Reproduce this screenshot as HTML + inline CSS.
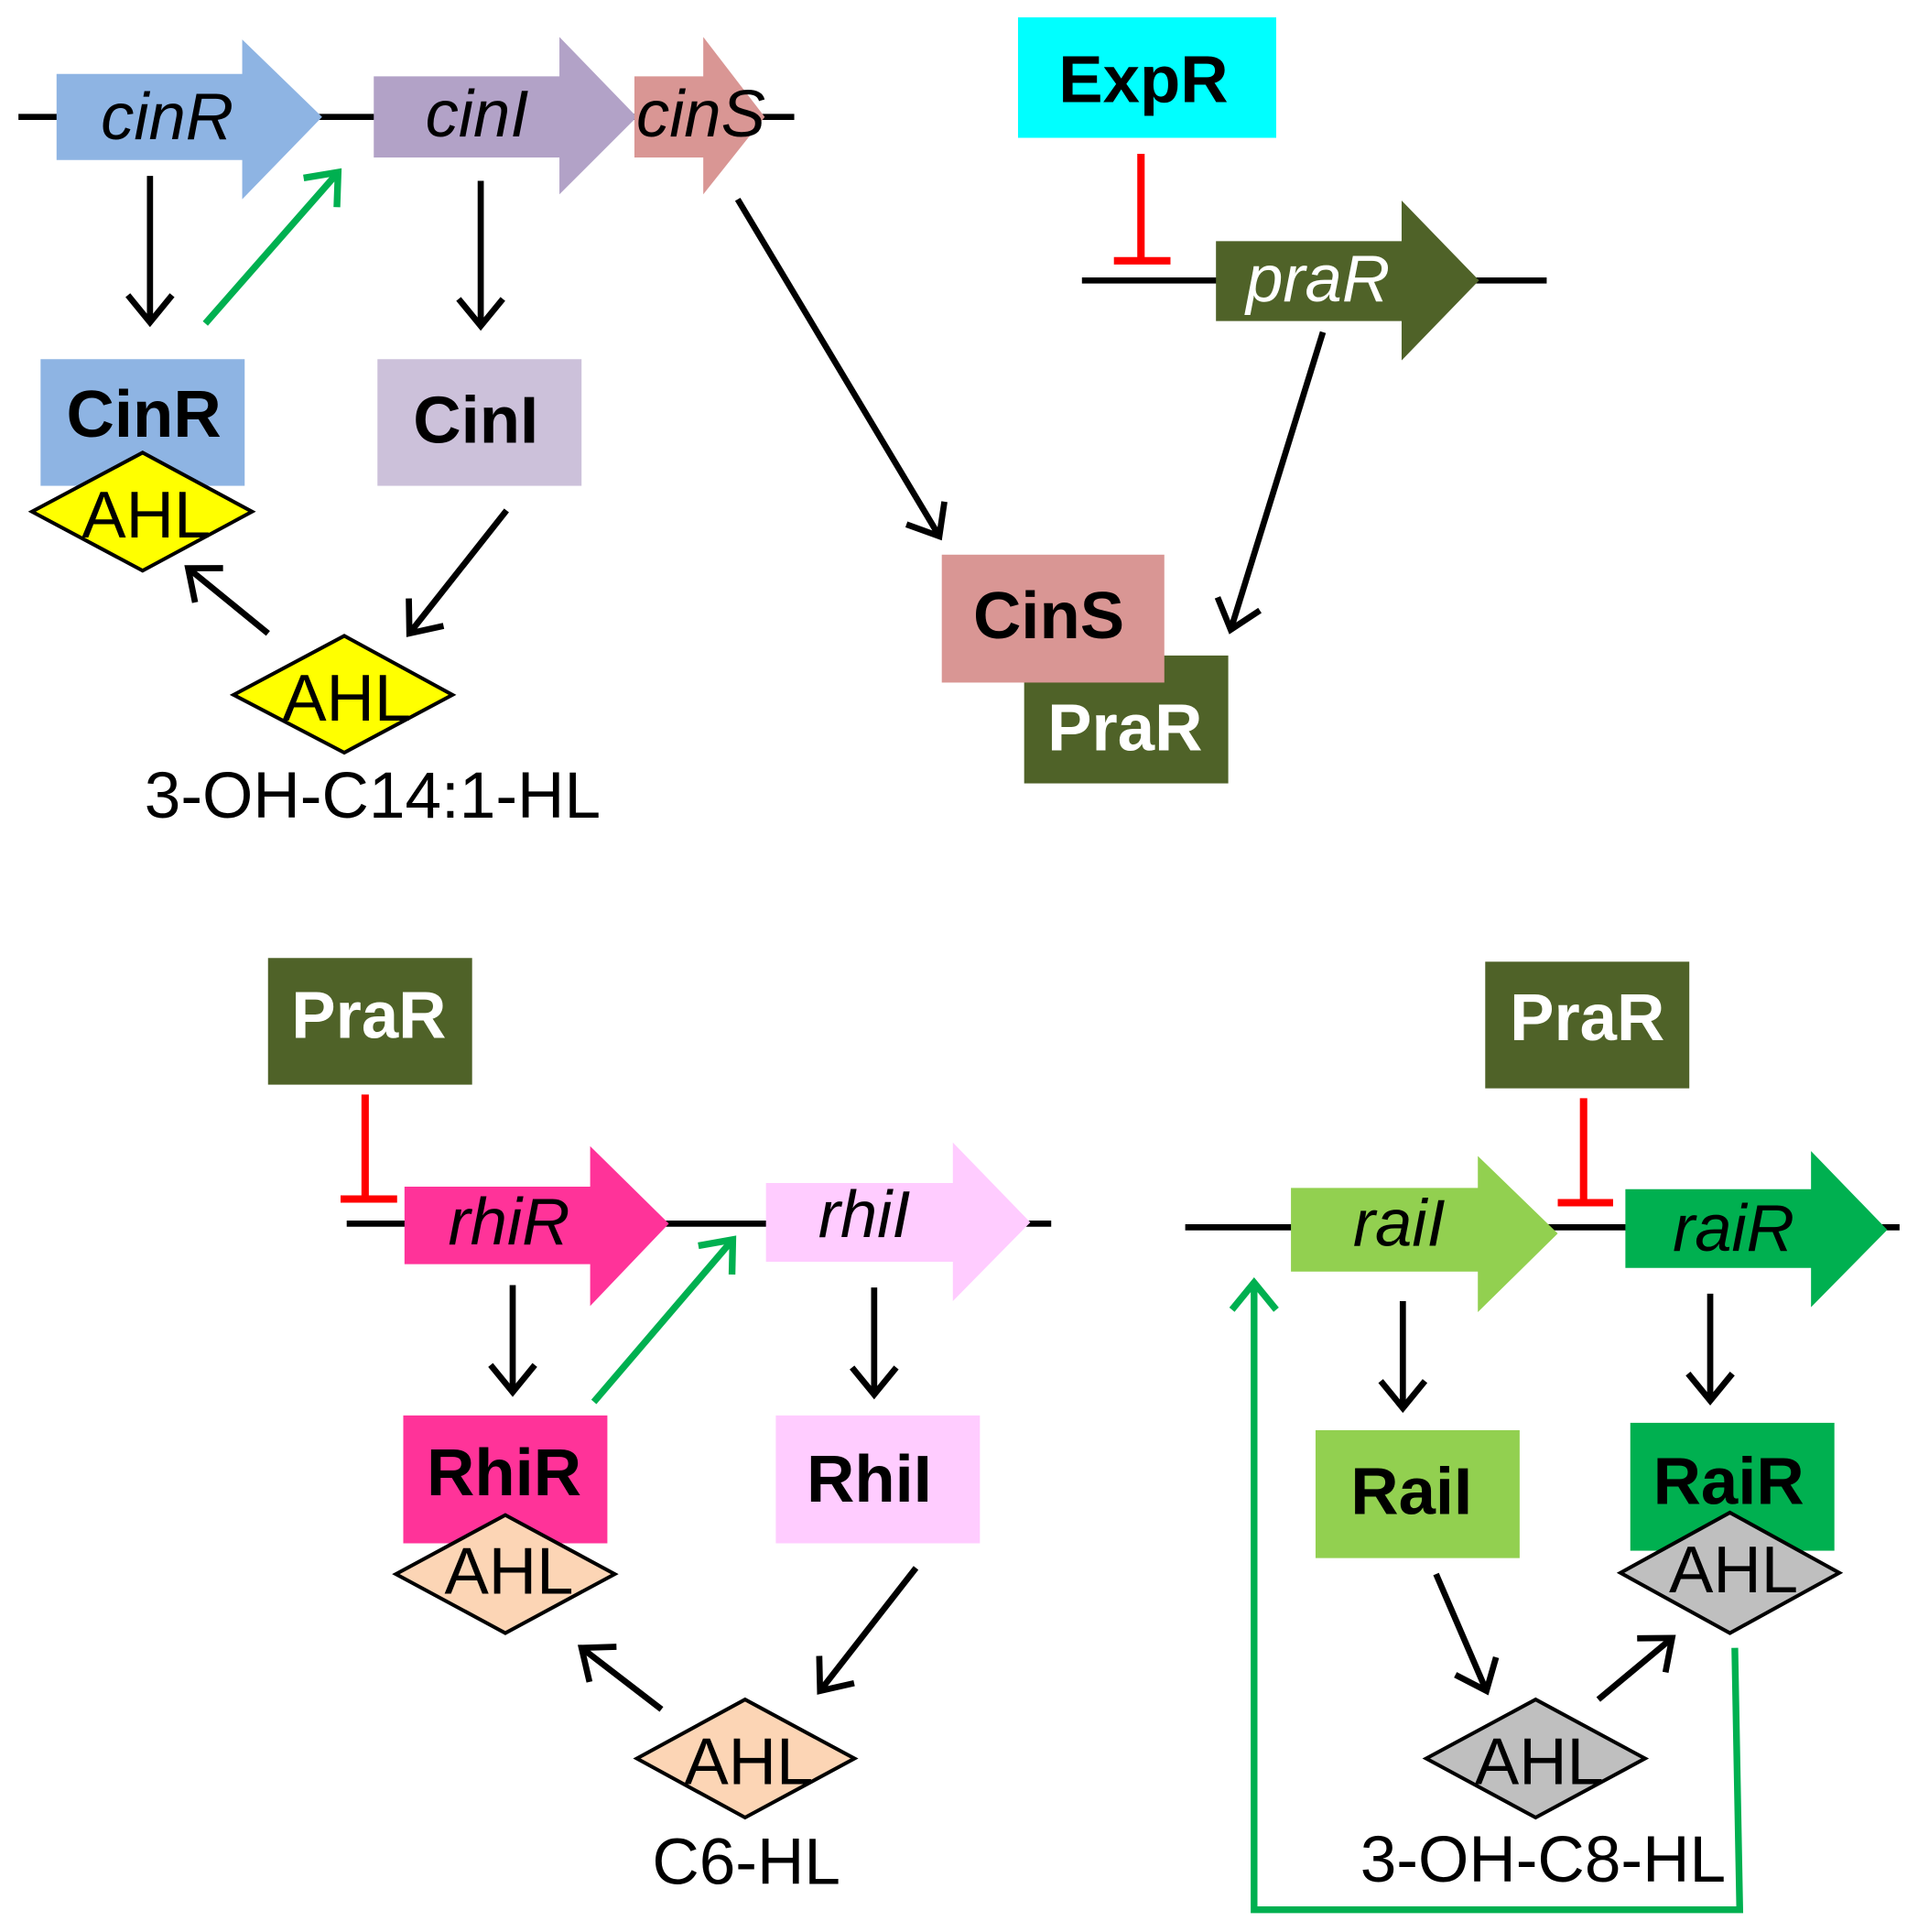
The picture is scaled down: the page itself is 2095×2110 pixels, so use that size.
<!DOCTYPE html>
<html><head><meta charset="utf-8"><style>
html,body{margin:0;padding:0;background:#fff}
svg{display:block}
text{font-family:"Liberation Sans",Arial,sans-serif}
.b{font-weight:bold;font-size:54px}
.i{font-style:italic;font-size:54px}
.a{font-size:54px}
.l{stroke:#000;stroke-width:5;fill:none}
.g{stroke:#00b050;stroke-width:5.5;fill:none}
.r{stroke:#ff0000;stroke-width:6;fill:none}
.d{stroke:#000;stroke-width:3}
</style></head><body>
<svg width="2095" height="2110" viewBox="0 0 1560 1571" xmlns="http://www.w3.org/2000/svg">
<defs>
<marker id="ak" markerWidth="12" markerHeight="12" refX="10" refY="6" orient="auto" markerUnits="userSpaceOnUse" viewBox="0 0 12 12" overflow="visible">
<path d="M-12,-12 L10,6 L-12,24" fill="none" stroke="#000" stroke-width="5"/>
</marker>
<marker id="ag" markerWidth="12" markerHeight="12" refX="10" refY="6" orient="auto" markerUnits="userSpaceOnUse" viewBox="0 0 12 12" overflow="visible">
<path d="M-12,-12 L10,6 L-12,24" fill="none" stroke="#00b050" stroke-width="5.5"/>
</marker>
</defs>
<line x1="15" y1="95" x2="646" y2="95" class="l"/>
<polygon points="46,60 197,60 197,32 262,95 197,162 197,130 46,130" fill="#8eb4e3"/>
<polygon points="304,62 455,62 455,30 518,95 455,158 455,128 304,128" fill="#b2a2c7"/>
<polygon points="516,62 572,62 572,30 622,95 572,158 572,128 516,128" fill="#d99694"/>
<text x="136" y="113" class="i" text-anchor="middle">cinR</text>
<text x="388" y="111" class="i" text-anchor="middle">cinI</text>
<text x="570" y="111" class="i" text-anchor="middle">cinS</text>
<line x1="122" y1="143" x2="122" y2="262" class="l" marker-end="url(#ak)"/>
<line x1="167" y1="263" x2="275" y2="140" class="g" marker-end="url(#ag)"/>
<line x1="391" y1="147" x2="391" y2="265" class="l" marker-end="url(#ak)"/>
<rect x="33" y="292" width="166" height="103" fill="#8eb4e3"/>
<text x="117" y="355" class="b" text-anchor="middle">CinR</text>
<rect x="307" y="292" width="166" height="103" fill="#ccc1da"/>
<text x="387" y="360" class="b" text-anchor="middle">CinI</text>
<polygon points="26,416 116,368 205,416 116,464" fill="#ffff00" class="d"/>
<text x="119" y="437" class="a" text-anchor="middle">AHL</text>
<line x1="412" y1="415" x2="333" y2="515" class="l" marker-end="url(#ak)"/>
<polygon points="190,565 280,517 368,565 280,612" fill="#ffff00" class="d"/>
<text x="282" y="586" class="a" text-anchor="middle">AHL</text>
<line x1="218" y1="515" x2="153" y2="462" class="l" marker-end="url(#ak)"/>
<text x="303" y="665" font-size="53" text-anchor="middle">3-OH-C14:1-HL</text>
<line x1="600" y1="162" x2="764" y2="436" class="l" marker-end="url(#ak)"/>
<rect x="828" y="14" width="210" height="98" fill="#00ffff"/>
<text x="930" y="83" class="b" text-anchor="middle">ExpR</text>
<line x1="928" y1="125" x2="928" y2="212" class="r"/>
<line x1="906" y1="212" x2="952" y2="212" class="r"/>
<line x1="880" y1="228" x2="1258" y2="228" class="l"/>
<polygon points="989,196 1140,196 1140,163 1203,228 1140,293 1140,261 989,261" fill="#4f6228"/>
<text x="1072" y="245" class="i" fill="#fff" text-anchor="middle">praR</text>
<line x1="1076" y1="270" x2="1001" y2="512" class="l" marker-end="url(#ak)"/>
<rect x="833" y="533" width="166" height="104" fill="#4f6228"/>
<text x="915" y="610" class="b" fill="#fff" text-anchor="middle">PraR</text>
<rect x="766" y="451" width="181" height="104" fill="#d99694"/>
<text x="853" y="519" class="b" text-anchor="middle">CinS</text>
<rect x="218" y="779" width="166" height="103" fill="#4f6228"/>
<text x="300" y="844" class="b" fill="#fff" text-anchor="middle">PraR</text>
<line x1="297" y1="890" x2="297" y2="975" class="r"/>
<line x1="277" y1="975" x2="323" y2="975" class="r"/>
<line x1="282" y1="995" x2="855" y2="995" class="l"/>
<polygon points="329,965 480,965 480,932 544,995 480,1062 480,1028 329,1028" fill="#ff3399"/>
<polygon points="623,962 775,962 775,929 838,994 775,1058 775,1026 623,1026" fill="#ffccff"/>
<text x="414" y="1012" class="i" text-anchor="middle">rhiR</text>
<text x="703" y="1006" class="i" text-anchor="middle">rhiI</text>
<line x1="417" y1="1045" x2="417" y2="1132" class="l" marker-end="url(#ak)"/>
<line x1="483" y1="1140" x2="596" y2="1008" class="g" marker-end="url(#ag)"/>
<line x1="711" y1="1047" x2="711" y2="1134" class="l" marker-end="url(#ak)"/>
<rect x="328" y="1151" width="166" height="104" fill="#ff3399"/>
<text x="410" y="1216" class="b" text-anchor="middle">RhiR</text>
<rect x="631" y="1151" width="166" height="104" fill="#ffccff"/>
<text x="707" y="1221" class="b" text-anchor="middle">RhiI</text>
<polygon points="322,1280 411,1232 500,1280 411,1328" fill="#fcd5b5" class="d"/>
<text x="414" y="1296" class="a" text-anchor="middle">AHL</text>
<line x1="745" y1="1275" x2="667" y2="1375" class="l" marker-end="url(#ak)"/>
<polygon points="518,1430 606,1382 695,1430 606,1478" fill="#fcd5b5" class="d"/>
<text x="609" y="1451" class="a" text-anchor="middle">AHL</text>
<line x1="538" y1="1390" x2="473" y2="1340" class="l" marker-end="url(#ak)"/>
<text x="607" y="1532" font-size="53" text-anchor="middle">C6-HL</text>
<line x1="964" y1="998" x2="1545" y2="998" class="l"/>
<polygon points="1050,966 1202,966 1202,940 1267,1003 1202,1067 1202,1034 1050,1034" fill="#92d050"/>
<polygon points="1322,967 1473,967 1473,936 1535,1000 1473,1063 1473,1031 1322,1031" fill="#00b050"/>
<text x="1138" y="1013" class="i" text-anchor="middle">raiI</text>
<text x="1410" y="1017" class="i" text-anchor="middle">raiR</text>
<rect x="1208" y="782" width="166" height="103" fill="#4f6228"/>
<text x="1291" y="846" class="b" fill="#fff" text-anchor="middle">PraR</text>
<line x1="1288" y1="893" x2="1288" y2="978" class="r"/>
<line x1="1267" y1="978" x2="1312" y2="978" class="r"/>
<line x1="1141" y1="1058" x2="1141" y2="1145" class="l" marker-end="url(#ak)"/>
<line x1="1391" y1="1052" x2="1391" y2="1139" class="l" marker-end="url(#ak)"/>
<rect x="1070" y="1163" width="166" height="104" fill="#92d050"/>
<text x="1148" y="1231" class="b" text-anchor="middle">RaiI</text>
<rect x="1326" y="1157" width="166" height="104" fill="#00b050"/>
<text x="1406" y="1223" class="b" text-anchor="middle">RaiR</text>
<polygon points="1318,1279 1407,1230 1496,1279 1407,1328" fill="#bfbfbf" class="d"/>
<text x="1410" y="1295" class="a" text-anchor="middle">AHL</text>
<line x1="1168" y1="1280" x2="1209" y2="1375" class="l" marker-end="url(#ak)"/>
<polygon points="1160,1430 1249,1382 1338,1430 1249,1478" fill="#bfbfbf" class="d"/>
<text x="1252" y="1451" class="a" text-anchor="middle">AHL</text>
<line x1="1300" y1="1382" x2="1360" y2="1332" class="l" marker-end="url(#ak)"/>
<text x="1255" y="1530" font-size="53" text-anchor="middle">3-OH-C8-HL</text>
<polyline points="1411,1340 1415,1553 1020,1553 1020,1043" class="g" marker-end="url(#ag)"/>
</svg>
</body></html>
